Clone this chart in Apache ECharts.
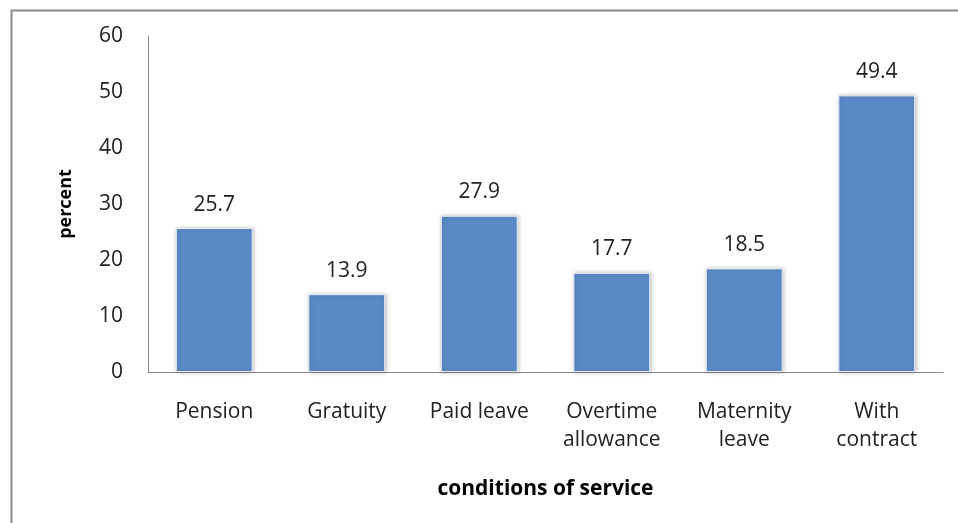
<!DOCTYPE html>
<html><head><meta charset="utf-8">
<script src="https://cdn.jsdelivr.net/npm/echarts@6/dist/echarts.min.js"></script>
<style>html,body{margin:0;padding:0;background:#fff}#c{width:958px;height:523px}</style>
</head><body><div id="c"></div>
<script>
const categories = ['Pension', 'Gratuity', 'Paid leave', 'Overtime\nallowance', 'Maternity\nleave', 'With\ncontract'];
const values = [25.7, 13.9, 27.9, 17.7, 18.5, 49.4];
const yTicks = [0, 10, 20, 30, 40, 50, 60];
const FONT = '"Open Sans", "DejaVu Sans", sans-serif';
const chart = echarts.init(document.getElementById('c'), null, {renderer: 'canvas'});
chart.setOption({
  animation: false,
  backgroundColor: '#fff',
  graphic: [{
    type: 'rect', left: 9, top: 8, shape: {width: 1000, height: 600},
    style: {fill: 'none', stroke: '#8c8c8c', lineWidth: 2}, silent: true, z: -1
  }],
  grid: {left: 148, right: 15, top: 36, bottom: 151},
  xAxis: {
    type: 'category', data: categories,
    axisLine: {lineStyle: {color: '#888', width: 1}},
    axisTick: {show: false},
    axisLabel: {color: '#222', fontSize: 21, fontFamily: FONT, margin: 26, lineHeight: 28, interval: 0},
    name: 'conditions of service', nameLocation: 'middle', nameGap: 107,
    nameTextStyle: {color: '#000', fontSize: 21, fontWeight: 'bold', fontFamily: FONT}
  },
  yAxis: {
    type: 'value', min: yTicks[0], max: yTicks[yTicks.length - 1], interval: 10,
    axisLine: {show: true, lineStyle: {color: '#888', width: 1}},
    axisTick: {show: false},
    splitLine: {show: false},
    axisLabel: {color: '#222', fontSize: 21, fontFamily: FONT, margin: 25},
    name: 'percent', nameLocation: 'middle', nameGap: 73, nameRotate: 90,
    nameTextStyle: {color: '#000', fontSize: 18, fontWeight: 'bold', fontFamily: FONT}
  },
  series: [{
    type: 'bar', data: values, barWidth: '58%',
    itemStyle: {color: '#5a8ac6', shadowColor: 'rgba(0,0,0,0.25)', shadowBlur: 4, shadowOffsetX: 1, shadowOffsetY: 0,
      borderColor: '#e8eef7', borderWidth: 1},
    label: {show: true, position: 'top', distance: 13, color: '#222', fontSize: 21, fontFamily: FONT,
      formatter: p => p.value.toFixed(1)}
  }]
});
</script></body></html>
